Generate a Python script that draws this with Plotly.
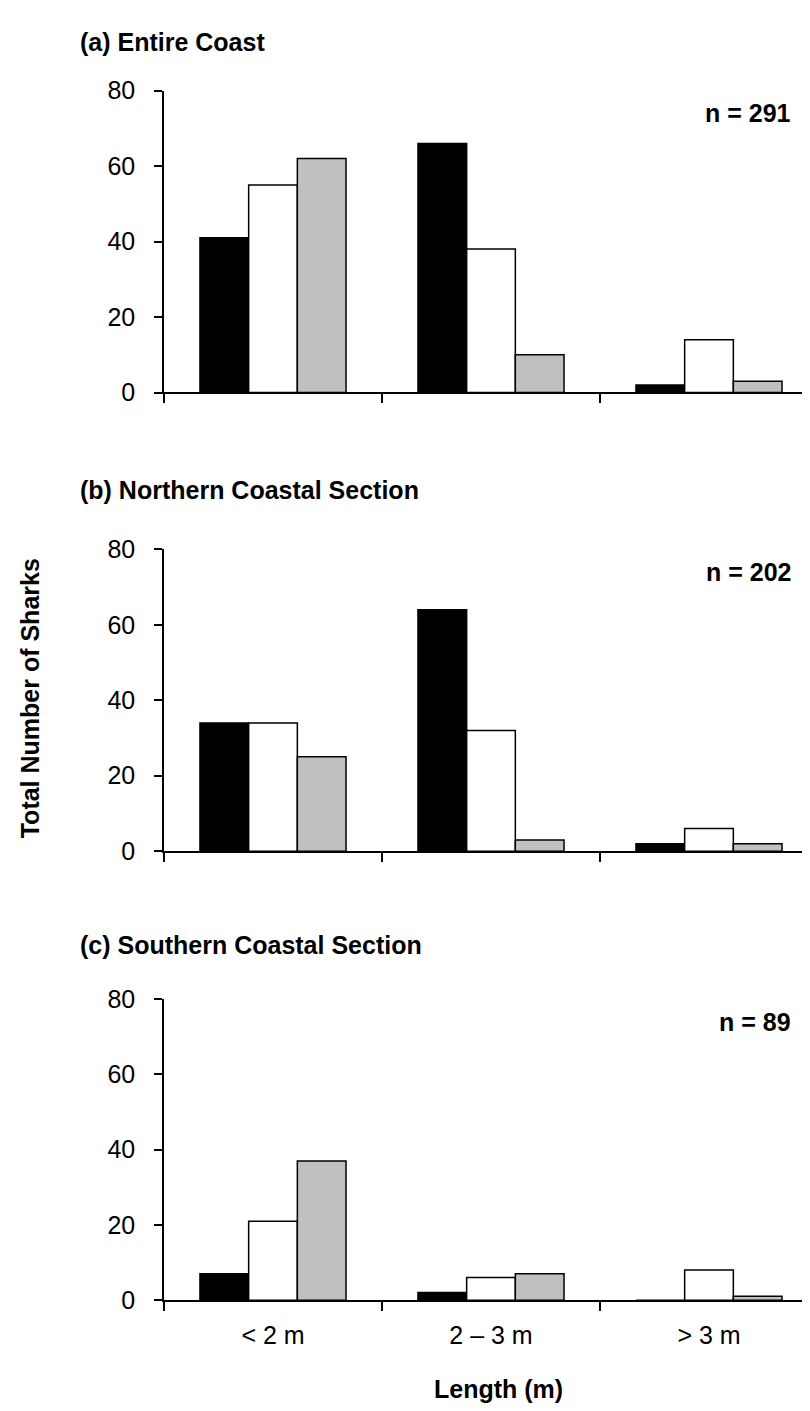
import plotly.graph_objects as go

categories = ["< 2 m", "2 – 3 m", "> 3 m"]

# Panel (a) Entire Coast
a_black = [41, 66, 2]
a_white = [55, 38, 14]
a_gray = [62, 10, 3]
# Panel (b) Northern Coastal Section
b_black = [34, 64, 2]
b_white = [34, 32, 6]
b_gray = [25, 3, 2]
# Panel (c) Southern Coastal Section
c_black = [7, 2, 0]
c_white = [21, 6, 8]
c_gray = [37, 7, 1]

panel_titles = ["(a) Entire Coast", "(b) Northern Coastal Section", "(c) Southern Coastal Section"]
n_labels = ["n = 291", "n = 202", "n = 89"]
y_ticks = [0, 20, 40, 60, 80]

W, H = 810, 1411
FONT = "Liberation Sans, Arial, sans-serif"
TICKFS = 25
BOLDFS = 25

panels = [(a_black, a_white, a_gray), (b_black, b_white, b_gray), (c_black, c_white, c_gray)]
# pixel positions (top of 80, bottom 0) for each panel
px_top = [70, 538, 997]
px_bot = [378, 846, 1304]
title_y = [20, 477, 942]

fills = ["#000000", "#FFFFFF", "#C0C0C0"]

fig = go.Figure()
layout = dict(
    width=W, height=H,
    margin=dict(l=0, r=0, t=0, b=0),
    paper_bgcolor="white", plot_bgcolor="white",
    barmode="group", bargap=0.33, bargroupgap=0,
    showlegend=False,
    font=dict(family=FONT, size=TICKFS, color="black"),
)

annotations = []
for i, (series, top, bot) in enumerate(zip(panels, px_top, px_bot)):
    xa = "x" if i == 0 else f"x{i+1}"
    ya = "y" if i == 0 else f"y{i+1}"
    for vals, col in zip(series, fills):
        fig.add_trace(go.Bar(
            x=categories, y=vals, xaxis=xa, yaxis=ya,
            marker=dict(color=col, line=dict(color="black", width=1.5)),
        ))
    xkey = "xaxis" if i == 0 else f"xaxis{i+1}"
    ykey = "yaxis" if i == 0 else f"yaxis{i+1}"
    layout[xkey] = dict(
        domain=[156 / W, 1.0], anchor=ya, type="category",
        showline=True, linecolor="black", linewidth=1.5,
        ticks="outside", ticklen=9, tickwidth=1.5, tickcolor="black",
        tickson="boundaries", showgrid=False, zeroline=False,
        showticklabels=(i == 2), ticklabelstandoff=12,
        tickfont=dict(size=TICKFS, family=FONT, color="black"),
    )
    layout[ykey] = dict(
        domain=[1 - bot / H, 1 - top / H], anchor=xa,
        range=[0, 80], tickvals=y_ticks,
        showline=True, linecolor="black", linewidth=1.5,
        ticks="outside", ticklen=8, tickwidth=1.5, tickcolor="black",
        showgrid=False, zeroline=False, ticklabelstandoff=14,
        tickfont=dict(size=TICKFS, family=FONT, color="black"),
    )
    annotations.append(dict(
        text=f"<b>{panel_titles[i]}</b>", xref="paper", yref="paper",
        x=70 / W, y=1 - title_y[i] / H, xanchor="left", yanchor="middle",
        showarrow=False, font=dict(size=BOLDFS, family=FONT, color="black"),
    ))
    annotations.append(dict(
        text=f"<b>{n_labels[i]}</b>", xref="paper", yref=ya,
        x=785 / W, y=74, xanchor="right", yanchor="middle",
        showarrow=False, font=dict(size=BOLDFS, family=FONT, color="black"),
    ))

annotations.append(dict(
    text="<b>Total Number of Sharks</b>", xref="paper", yref="paper",
    x=22 / W, y=1 - 690 / H, xanchor="center", yanchor="middle", textangle=-90,
    showarrow=False, font=dict(size=BOLDFS, family=FONT, color="black"),
))
annotations.append(dict(
    text="<b>Length (m)</b>", xref="paper", yref="paper",
    x=490 / W, y=1 - 1395 / H, xanchor="center", yanchor="middle",
    showarrow=False, font=dict(size=BOLDFS, family=FONT, color="black"),
))
layout["annotations"] = annotations
fig.update_layout(**layout)
fig.write_html("out.html")
